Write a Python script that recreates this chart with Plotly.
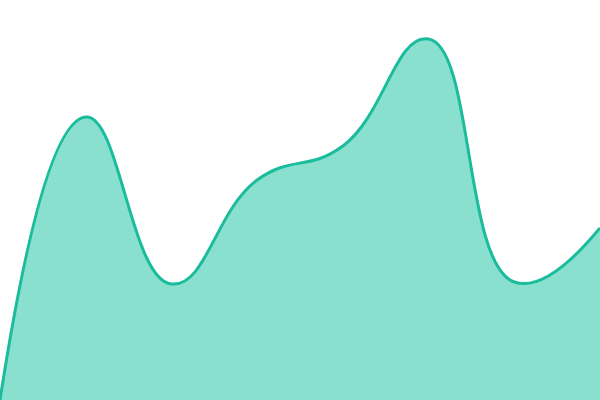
import plotly.graph_objects as go

x_vals = [0, 1, 2, 3, 4, 5, 6, 7]
y_vals = [0, 70.75, 29, 55, 63.5, 90.25, 29.5, 43]

fig = go.Figure()
fig.add_trace(go.Scatter(
    x=x_vals, y=y_vals, mode="lines",
    line=dict(color="#1abc9c", width=3, shape="spline", smoothing=1.3),
    fill="tozeroy", fillcolor="#8ae0cf",
    hoverinfo="skip",
))
fig.update_layout(
    width=600, height=400,
    margin=dict(l=0, r=0, t=0, b=0),
    paper_bgcolor="white", plot_bgcolor="white",
    showlegend=False,
    xaxis=dict(visible=False, range=[0, 7]),
    yaxis=dict(visible=False, range=[0, 100]),
)
fig.write_html(
    "out.html",
    config={"displayModeBar": False},
    post_script="document.body.style.margin='0';document.body.style.overflow='hidden';",
)
